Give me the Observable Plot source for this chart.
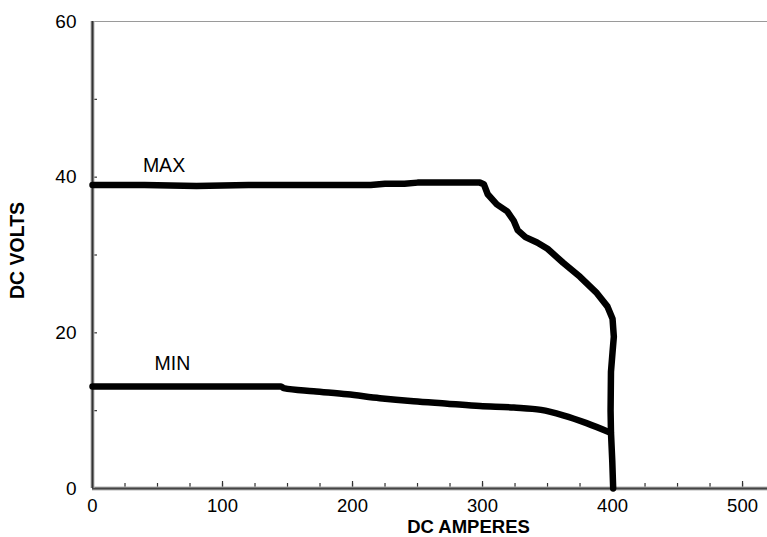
<!DOCTYPE html>
<html>
<head>
<meta charset="utf-8">
<script src="https://cdn.jsdelivr.net/npm/d3@7"></script>
<script src="https://cdn.jsdelivr.net/npm/@observablehq/plot@0.6"></script>
<style>
  html, body { margin: 0; padding: 0; background: #fff; }
  #chart svg { display: block; font-family: "Liberation Sans", Arial, Helvetica, sans-serif; }
</style>
</head>
<body>
<div id="chart"></div>
<script>
// Data
const maxAmps  = [0, 40, 80, 120, 160, 214, 225, 240, 250, 298, 301, 304, 311, 319, 324, 327, 333, 342, 350, 362, 375, 388, 396, 400, 401, 400, 398.8, 398.5, 398.8, 399.8, 400.5];
const maxVolts = [39.0, 39.0, 38.85, 39.0, 39.0, 39.0, 39.15, 39.15, 39.3, 39.3, 39.1, 37.8, 36.5, 35.6, 34.4, 33.2, 32.3, 31.6, 30.8, 29.0, 27.2, 25.1, 23.4, 21.8, 19.5, 17.5, 15.0, 10.0, 7.2, 3.5, 0];
const minAmps  = [0, 145, 147, 170, 196, 221, 247, 273, 298, 324, 345, 362, 380, 398];
const minVolts = [13.1, 13.1, 12.9, 12.5, 12.1, 11.6, 11.2, 10.9, 10.6, 10.4, 10.1, 9.4, 8.4, 7.2];
const xTickLabels = [0, 100, 200, 300, 400, 500];
const xMinorTicks = d3.range(0, 520, 25);
const yTickLabels = [0, 20, 40, 60];
const yMinorTicks = [10, 20, 30, 40, 50];
const seriesLabels = [
  {name: "MAX", x: 55, y: 40.7},
  {name: "MIN", x: 61.5, y: 15.2}
];
const xTitle = "DC AMPERES";
const yTitle = "DC VOLTS";

const maxData = maxAmps.map((a, i) => ({amps: a, volts: maxVolts[i]}));
const minData = minAmps.map((a, i) => ({amps: a, volts: minVolts[i]}));

const chart = Plot.plot({
  width: 767,
  height: 537,
  marginLeft: 92,
  marginRight: 0,
  marginTop: 21,
  marginBottom: 49,
  style: {fontFamily: '"Liberation Sans", Arial, Helvetica, sans-serif', fontSize: "19px", color: "#000", background: "#fff"},
  x: {domain: [0, 519.2]},
  y: {domain: [0, 60]},
  marks: [
    // top frame line
    Plot.ruleY([60], {stroke: "#9a9a9a", strokeWidth: 1.2}),
    // minor / major ticks drawn inward
    Plot.axisX(xMinorTicks, {tickSize: -5, tickFormat: () => "", stroke: "#333", strokeWidth: 1.2, label: null}),
    Plot.axisX(xTickLabels, {tickSize: -7, tickFormat: () => "", stroke: "#333", strokeWidth: 1.2, label: null}),
    Plot.axisX(xTickLabels, {tickSize: 0, tickPadding: 10.5, fontSize: 18.5, fill: "#000", label: null}),
    Plot.axisY(yMinorTicks, {tickSize: -5, tickFormat: () => "", stroke: "#333", strokeWidth: 1.2, label: null}),
    Plot.axisY(yTickLabels, {tickSize: 0, tickPadding: 16, fontSize: 19, fill: "#000", label: null}),
    // axis lines
    Plot.ruleY([0], {stroke: "#b5b5b5", strokeWidth: 4}),
    Plot.ruleY([0], {stroke: "#444", strokeWidth: 2}),
    Plot.ruleX([0], {stroke: "#b5b5b5", strokeWidth: 4}),
    Plot.ruleX([0], {stroke: "#333", strokeWidth: 2}),
    // curves
    Plot.line(maxData, {x: "amps", y: "volts", stroke: "#000", strokeWidth: 6.5, strokeLinejoin: "round", strokeLinecap: "round", curve: "linear"}),
    Plot.line(minData, {x: "amps", y: "volts", stroke: "#000", strokeWidth: 6.5, strokeLinejoin: "round", strokeLinecap: "round", curve: "monotone-x"}),
    // series labels
    Plot.text(seriesLabels, {x: "x", y: "y", text: "name", fontSize: 19.5, fill: "#000", textAnchor: "middle", lineAnchor: "bottom"}),
    // axis titles
    Plot.text([xTitle], {frameAnchor: "bottom", dx: 38.5, dy: 44.5, lineAnchor: "bottom", textAnchor: "middle", fontSize: 18.5, fontWeight: "bold", fill: "#000"}),
    Plot.text([yTitle], {frameAnchor: "left", dx: -75, dy: -4.5, rotate: -90, lineAnchor: "middle", textAnchor: "middle", fontSize: 19.5, fontWeight: "bold", fill: "#000"})
  ]
});
document.getElementById("chart").append(chart);
</script>
</body>
</html>
